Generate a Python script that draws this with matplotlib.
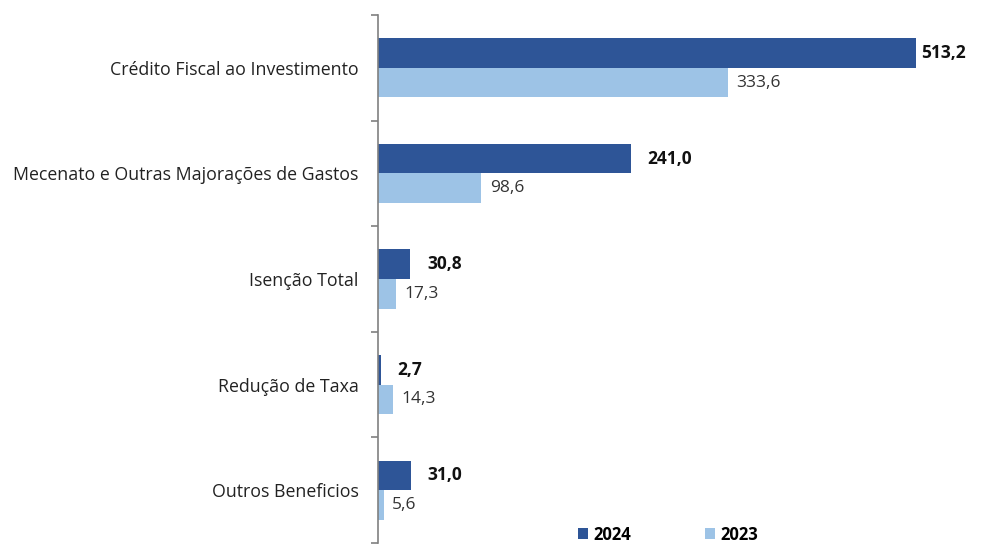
import matplotlib
matplotlib.use("Agg")
import matplotlib.pyplot as plt
import numpy as np

categories = ["Crédito Fiscal ao Investimento", "Mecenato e Outras Majorações de Gastos",
              "Isenção Total", "Redução de Taxa", "Outros Beneficios"]
v2024 = [513.2, 241.0, 30.8, 2.7, 31.0]
v2023 = [333.6, 98.6, 17.3, 14.3, 5.6]
lab2024 = ["513,2", "241,0", "30,8", "2,7", "31,0"]
lab2023 = ["333,6", "98,6", "17,3", "14,3", "5,6"]

c24 = "#2e5597"
c23 = "#9dc3e6"

plt.rcParams['font.family'] = ['Open Sans', 'DejaVu Sans']
fig = plt.figure(figsize=(9.84, 5.45), dpi=100)
ax = fig.add_axes([378/984, 2/545, 1 - 378/984, (543-15)/545])

n = len(categories)
y = np.arange(n)
h = 0.28
ax.barh(y - h/2, v2024, height=h, color=c24, label="2024")
ax.barh(y + h/2, v2023, height=h, color=c23, label="2023")

for i in range(n):
    off = 16 if v2024[i] < 450 else 5
    ax.text(v2024[i] + off, y[i] - h/2, lab2024[i], va='center', ha='left',
            fontsize=12.5, fontweight='bold', color='#111111')
    ax.text(v2023[i] + 8, y[i] + h/2, lab2023[i], va='center', ha='left',
            fontsize=12.5, color='#333333')

ax.set_xlim(0, 578)
ax.set_ylim(n - 0.5, -0.5)
ax.set_yticks(y)
ax.set_yticklabels(categories, fontsize=12.8, color='#222222')
ax.set_yticks(np.arange(-0.5, n, 1), minor=True)
ax.tick_params(axis='y', which='major', length=0, pad=14)
ax.tick_params(axis='y', which='minor', length=5, color='#808080', width=1.2)
ax.set_xticks([])
for s in ['top', 'right', 'bottom']:
    ax.spines[s].set_visible(False)
ax.spines['left'].set_color('#808080')
ax.spines['left'].set_linewidth(1.2)

leg = fig.legend(loc='lower left', bbox_to_anchor=(563/984, -0.025), ncol=2, frameon=False,
                 handlelength=0.6, handleheight=0.6, columnspacing=4.4,
                 handletextpad=0.35, prop={'weight': 'bold', 'size': 12})
fig.savefig("out.png", dpi=100, facecolor='white')
